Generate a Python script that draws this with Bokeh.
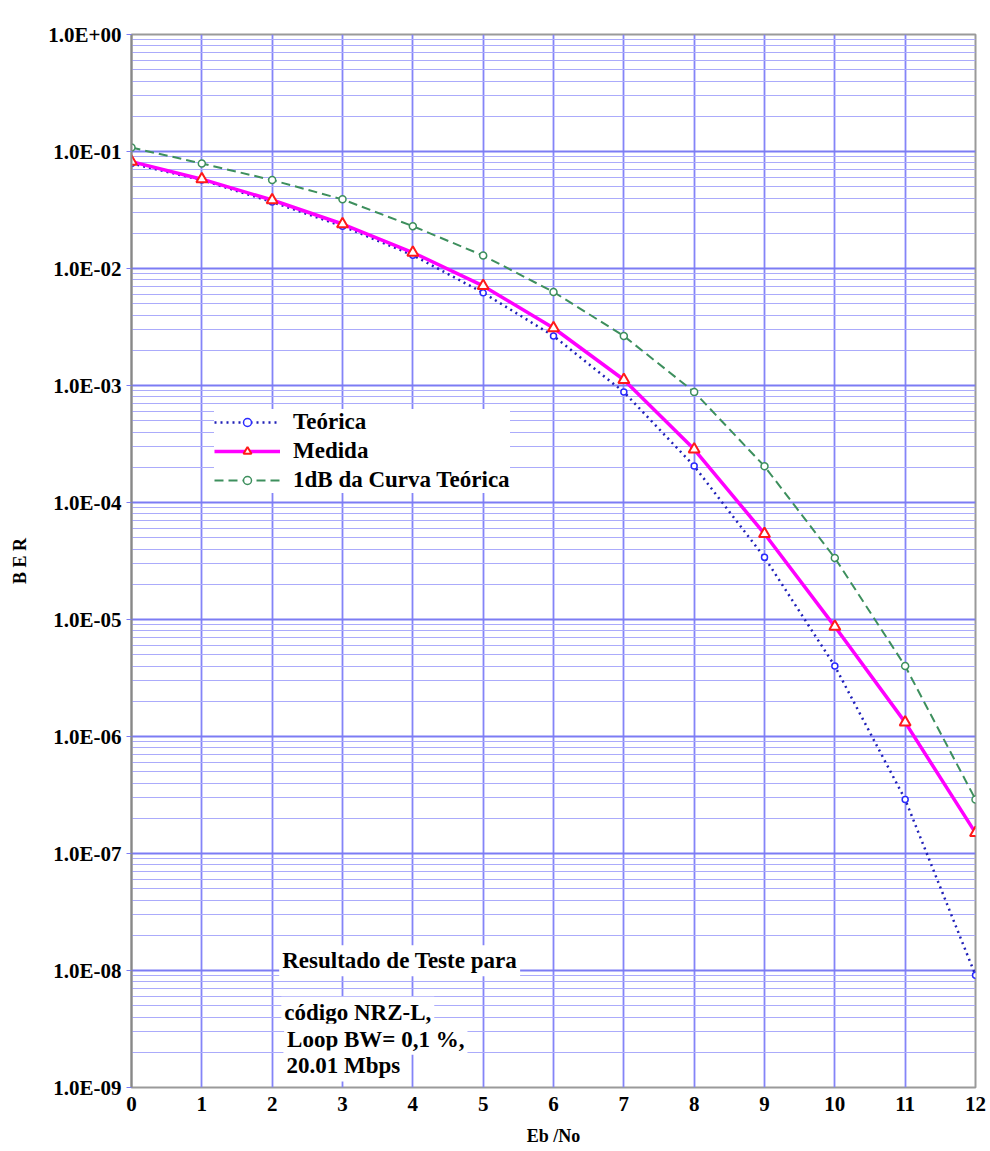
from bokeh.plotting import figure
from bokeh.models import FixedTicker, CustomJSTickFormatter, Legend, LegendItem, Label
from bokeh.embed import file_html
from bokeh.resources import INLINE

# ---- data ----
ebno = [0, 1, 2, 3, 4, 5, 6, 7, 8, 9, 10, 11, 12]
ber_teorica = [7.9e-2, 5.7e-2, 3.7e-2, 2.3e-2, 1.3e-2, 6.2e-3, 2.65e-3, 8.8e-4,
               2.05e-4, 3.4e-5, 4.0e-6, 2.9e-7, 9.1e-9]
ber_medida = [8.2e-2, 5.8e-2, 3.85e-2, 2.4e-2, 1.37e-2, 7.1e-3, 3.1e-3, 1.12e-3,
              2.85e-4, 5.4e-5, 8.7e-6, 1.32e-6, 1.5e-7]
ber_1db = [1.08e-1, 7.9e-2, 5.7e-2, 3.9e-2, 2.3e-2, 1.29e-2, 6.3e-3, 2.65e-3,
           8.8e-4, 2.04e-4, 3.36e-5, 4.0e-6, 2.9e-7]

y_ticks = [1e0, 1e-1, 1e-2, 1e-3, 1e-4, 1e-5, 1e-6, 1e-7, 1e-8, 1e-9]
y_tick_labels = ["1.0E+00", "1.0E-01", "1.0E-02", "1.0E-03", "1.0E-04",
                 "1.0E-05", "1.0E-06", "1.0E-07", "1.0E-08", "1.0E-09"]
x_ticks = ebno

series_names = ["Teórica", "Medida", "1dB da Curva Teórica"]
note_title = "Resultado de Teste para"
note_lines = ["código NRZ-L,", "Loop BW= 0,1 %,", "20.01 Mbps"]

FONT = "Liberation Serif"

p = figure(width=986, height=1150, x_range=(0, 12), y_range=(1e-9, 1.0),
           y_axis_type="log", output_backend="svg", toolbar_location=None,
           min_border_left=131, min_border_right=11, min_border_top=34,
           min_border_bottom=63, background_fill_color="white",
           border_fill_color="white")
p.outline_line_color = "#9a9a9a"
p.outline_line_width = 2

# ticks
minor = [m * 10.0 ** (-d) for d in range(1, 10) for m in range(2, 10)]
p.yaxis.ticker = FixedTicker(ticks=y_ticks, minor_ticks=minor)
p.yaxis.formatter = CustomJSTickFormatter(args=dict(tv=y_ticks, lab=y_tick_labels), code="""
let best = 0, bd = 1e9;
for (let i = 0; i < tv.length; i++) {
  const d = Math.abs(Math.log10(tv[i]) - Math.log10(tick));
  if (d < bd) { bd = d; best = i; }
}
return lab[best];
""")
p.xaxis.ticker = FixedTicker(ticks=x_ticks, minor_ticks=[])

# grids
p.ygrid.grid_line_color = "#7c7cf4"
p.ygrid.grid_line_width = 2
p.ygrid.minor_grid_line_color = "#ababfb"
p.ygrid.minor_grid_line_width = 1.2
p.xgrid.grid_line_color = "#8484f8"
p.xgrid.grid_line_width = 1.8

# axes
for ax in (p.xaxis, p.yaxis):
    ax.major_label_text_font = FONT
    ax.major_label_text_font_style = "bold"
    ax.major_label_text_font_size = "21px"
    ax.major_label_text_color = "black"
    ax.axis_label_text_font = FONT
    ax.axis_label_text_font_style = "bold"
    ax.axis_label_text_font_size = "18px"
    ax.axis_label_text_color = "black"
    ax.minor_tick_line_color = None
    ax.major_tick_in = 0

p.yaxis.axis_line_color = "#888888"
p.yaxis.axis_line_width = 2
p.yaxis.major_tick_line_color = "#7c7cf4"
p.yaxis.major_tick_out = 5
p.yaxis.major_label_standoff = 5
p.yaxis.axis_label = "B E R"
p.yaxis.axis_label_standoff = 15

p.xaxis.axis_line_color = None
p.xaxis.major_tick_line_color = None
p.xaxis.major_tick_out = 0
p.xaxis.major_label_standoff = 9
p.xaxis.axis_label = "Eb /No"
p.xaxis.axis_label_standoff = 12

# series
g_line = p.line(ebno, ber_1db, line_color="#3d8f5d", line_width=2, line_dash="9 5")
b_line = p.line(ebno, ber_teorica, line_color="#2020b8", line_width=2.5, line_dash="2 4")
m_line = p.line(ebno, ber_medida, line_color="#ff00ff", line_width=3.5)
g_pts = p.scatter(ebno, ber_1db, marker="circle", size=7, line_color="#3d8f5d",
                  line_width=1.5, fill_color="white")
b_pts = p.scatter(ebno, ber_teorica, marker="circle", size=6, line_color="#2a2aff",
                  line_width=1.5, fill_color="white")
r_pts = p.scatter(ebno, ber_medida, marker="triangle", size=11, line_color="#ff1a1a",
                  line_width=2, fill_color="white")

legend = Legend(items=[
    LegendItem(label=series_names[0], renderers=[b_line, b_pts]),
    LegendItem(label=series_names[1], renderers=[m_line, r_pts]),
    LegendItem(label=series_names[2], renderers=[g_line, g_pts]),
], location=(83, 594))
legend.label_text_font = FONT
legend.label_text_font_style = "bold"
legend.label_text_font_size = "23px"
legend.label_text_color = "black"
legend.glyph_width = 66
legend.glyph_height = 20
legend.label_height = 20
legend.label_standoff = 13
legend.spacing = 3
legend.padding = 4
legend.margin = 0
legend.border_line_color = None
legend.background_fill_color = "white"
legend.background_fill_alpha = 1.0
p.add_layout(legend, "center")

# annotation text
p.add_layout(Label(x=2.1, y=1.21e-8, text=note_title, text_font=FONT,
                   text_font_style="bold", text_font_size="23px", text_color="black",
                   text_baseline="middle", background_fill_color="white", padding=3))
note_y = [4.4e-9, 2.58e-9, 1.53e-9]
note_x = [2.13, 2.17, 2.16]
for tx, ty, t in zip(note_x, note_y, note_lines):
    p.add_layout(Label(x=tx, y=ty, text=t, text_font=FONT,
                       text_font_style="bold", text_font_size="23px", text_color="black",
                       text_baseline="middle", background_fill_color="white", padding=3))

open("out.html", "w").write(file_html(p, INLINE))
